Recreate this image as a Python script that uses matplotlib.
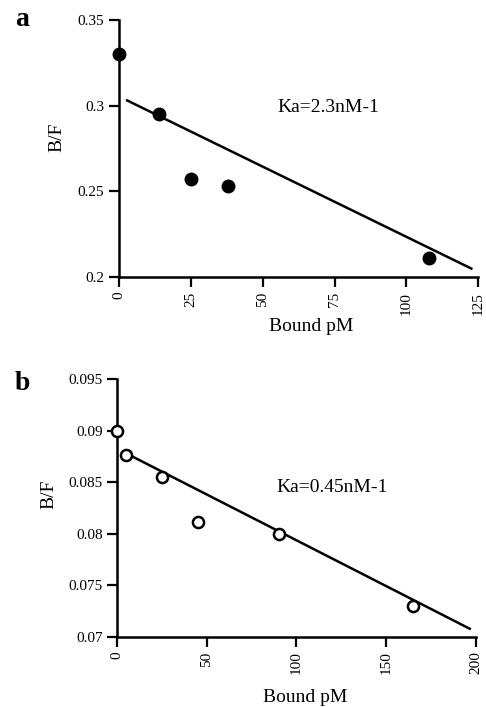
import numpy as np
import matplotlib
matplotlib.use("Agg")
import matplotlib.pyplot as plt
from matplotlib.ticker import FuncFormatter

# Panel a: Scatchard data (filled symbols)
bound_a = [0, 14, 25, 38, 108]
bf_a = [0.330, 0.295, 0.257, 0.253, 0.211]
fit_a_x = [2.8, 122.6]
fit_a_slope = -0.000818
fit_a_icpt = 0.3053
xticks_a = [0, 25, 50, 75, 100, 125]
yticks_a = [0.2, 0.25, 0.3, 0.35]

# Panel b: Scatchard data (open symbols)
bound_b = [0, 5, 25, 45, 90, 165]
bf_b = [0.0900, 0.0876, 0.0855, 0.0811, 0.0800, 0.0730]
fit_b_x = [5, 196.6]
fit_b_slope = -0.0000887
fit_b_icpt = 0.08824
xticks_b = [0, 50, 100, 150, 200]
yticks_b = [0.07, 0.075, 0.08, 0.085, 0.09, 0.095]

plt.rcParams['font.family'] = ['Liberation Serif', 'DejaVu Serif']

fig = plt.figure(figsize=(4.86, 7.07), dpi=100)


def trim(v, pos):
    s = ('%.3f' % v).rstrip('0').rstrip('.')
    return s


def style(ax, xt, yt):
    for s in ('top', 'right'):
        ax.spines[s].set_visible(False)
    for s in ('left', 'bottom'):
        ax.spines[s].set_linewidth(1.8)
    ax.set_xticks(xt)
    ax.set_yticks(yt)
    ax.set_xlim(xt[0], xt[-1])
    ax.set_ylim(yt[0], yt[-1])
    ax.yaxis.set_major_formatter(FuncFormatter(trim))
    ax.tick_params(direction='out', length=7, width=1.6, labelsize=11)
    for lab in ax.get_xticklabels():
        lab.set_rotation(90)
    ax.set_xlabel('Bound pM', fontsize=14)
    ax.set_ylabel('B/F', fontsize=14)


ax1 = fig.add_axes([0.245, 0.608, 0.739, 0.364])
xx = np.array(fit_a_x)
ax1.plot(xx, fit_a_icpt + fit_a_slope * xx, color='black', lw=1.8)
ax1.plot(bound_a, bf_a, 'o', color='black', ms=9, clip_on=False, zorder=5)
style(ax1, xticks_a, yticks_a)
ax1.xaxis.set_label_coords(0.535, -0.16)
ax1.yaxis.set_label_coords(-0.15, 0.545)
ax1.text(73, 0.299, 'Ka=2.3nM-1', fontsize=14, ha='center', va='center')

ax2 = fig.add_axes([0.241, 0.099, 0.738, 0.365])
xx = np.array(fit_b_x)
ax2.plot(xx, fit_b_icpt + fit_b_slope * xx, color='black', lw=1.8)
ax2.plot(bound_b, bf_b, 'o', mfc='white', mec='black', mew=1.8, ms=8,
         clip_on=False, zorder=5)
style(ax2, xticks_b, yticks_b)
ax2.xaxis.set_label_coords(0.524, -0.20)
ax2.yaxis.set_label_coords(-0.167, 0.554)
ax2.text(120, 0.0845, 'Ka=0.45nM-1', fontsize=14, ha='center', va='center')

fig.text(0.031, 0.972, 'a', fontsize=20, fontweight='bold', va='center')
fig.text(0.031, 0.458, 'b', fontsize=20, fontweight='bold', va='center')

fig.savefig('out.png', dpi=100)
